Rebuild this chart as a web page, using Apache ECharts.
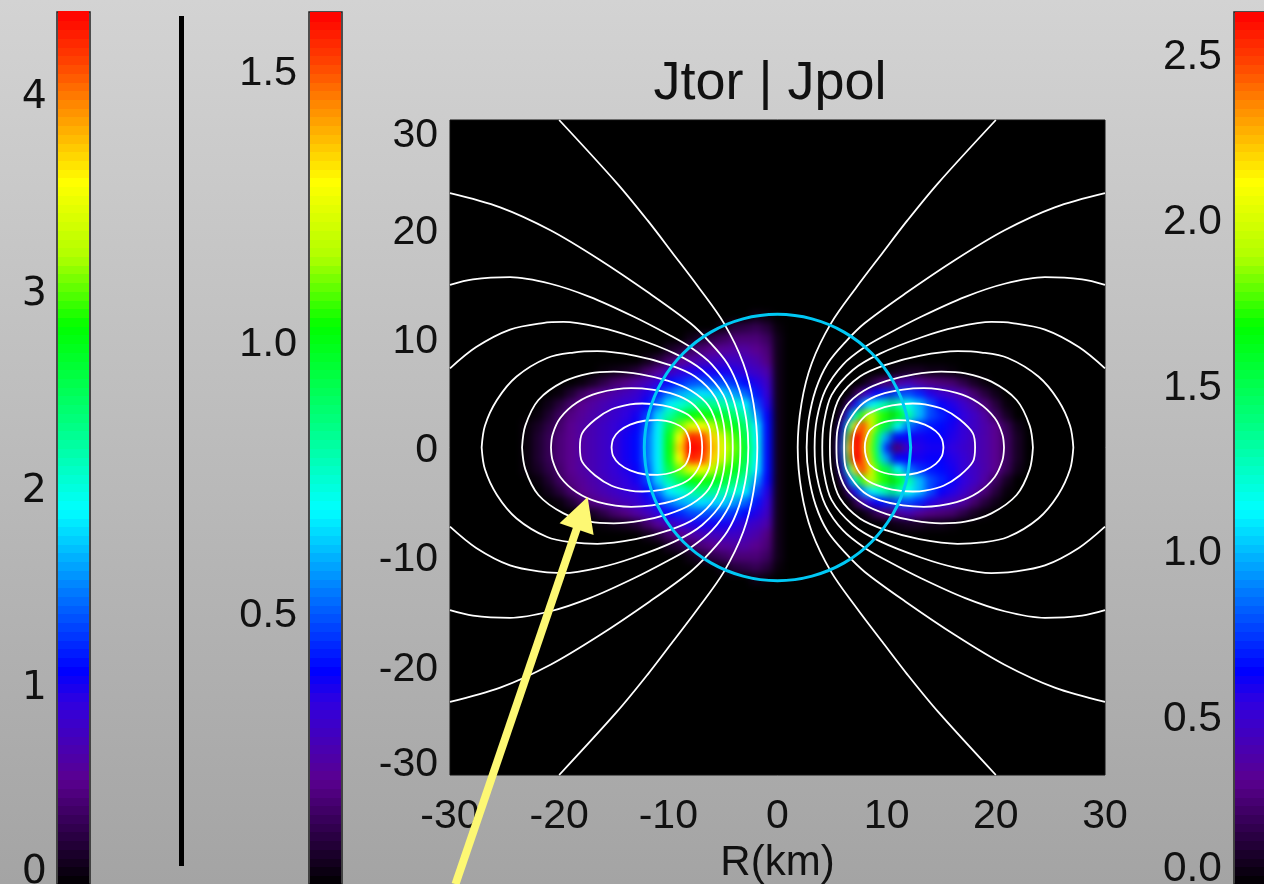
<!DOCTYPE html>
<html>
<head>
<meta charset="utf-8">
<title>Jtor | Jpol</title>
<style>
  html, body { margin: 0; padding: 0; overflow: hidden; }
  #chart { width: 1264px; height: 884px; }
</style>
<script src="https://cdn.jsdelivr.net/npm/echarts@6/dist/echarts.min.js"></script>
</head>
<body>
<div id="chart"></div>
<script>
// colour bar ranges
const leftBarMax = 4.426;
const midBarMax = 1.609;
const rightBarMax = 2.634;

// the 100 bands of the colour bars
const barLevels = [0,1,2,3,4,5,6,7,8,9,10,11,12,13,14,15,16,17,18,19,20,21,22,23,24,25,26,27,28,29,30,31,32,33,34,35,36,37,38,39,40,41,42,43,44,45,46,47,48,49,50,51,52,53,54,55,56,57,58,59,60,61,62,63,64,65,66,67,68,69,70,71,72,73,74,75,76,77,78,79,80,81,82,83,84,85,86,87,88,89,90,91,92,93,94,95,96,97,98,99];

// rainbow: position on the bar (0-100) and colour
const rampPos = [0, 12, 21, 24.5, 34, 43, 53, 64, 72, 80.5, 90, 94.5, 100];
const rampCol = ['#000000', '#5a0090', '#3000e0', '#0000ff', '#0080ff', '#00ffff', '#00ff80', '#00ff00', '#b0ff00', '#ffff00', '#ff8000', '#ff4000', '#ff0000'];

// left lobe (Jtor), position on the bar. columns are r = 0,1,2.. km, rows z = 0,1,2.. km
const jtorRows = [
  [2,25,45,60,69,77,86,98,100,84,63,42,33,25,23,20,18,16,14,12,10,7,4,1],
  [2,25,44,58,67,74,84,95,97,80,62,42,33,25,23,20,18,16,14,12,10,7,4,1],
  [2,25,42,55,62,67,73,80,78,69,58,42,31,24,22,20,18,16,14,12,9,6,3,1],
  [2,24,36,49,55,60,62,65,63,57,50,40,29,23,21,19,17,15,13,11,8,4,1],
  [2,22,30,42,47,50,52,53,50,46,42,33,25,21,20,18,16,14,12,9,5,2],
  [2,20,26,32,36,40,40,41,39,37,33,27,22,19,17,15,13,11,8,4,1],
  [2,18,22,25,28,30,30,31,30,27,25,21,17,14,11,9,6,3,1],
  [2,15,18,20,22,23,23,23,22,20,17,13,9,5,3,2,1],
  [2,11,15,17,18,18,17,16,14,12,9,5,2],
  [2,10,12,14,14,13,12,10,8,5,3],
  [2,8,10,10,10,8,6,4,2],
  [1,5,7,6,5,2],
  [0,1,2]
];

// right lobe (Jpol), same idea, finer columns through the sharp inner edge
const jpolR = [5.5,6,6.5,7,7.5,8,8.5,9,9.5,10,11,12,13,14,15,16,17,18,19,20,21,22];
const jpolW = [0.5,0.5,0.5,0.5,0.5,0.5,0.5,0.5,0.5,0.75,1,1,1,1,1,1,1,1,1,1,1,1];
const jpolRows = [
  [8,32,78,100,100,84,70,58,42,27,10,20,22,23,23,21,19,17,15,12,8,3],
  [6,29,70,100,100,88,73,60,48,36,25,24,23,24,24,22,20,17,15,12,8,3],
  [3,22,50,78,94,93,80,69,62,57,44,33,28,26,25,23,20,18,15,12,7,2],
  [0,10,27,45,60,70,76,70,66,65,62,50,38,30,27,24,21,18,14,8,3,0],
  [0,1,10,22,30,37,42,45,47,50,50,44,38,30,24,22,19,15,10,5,1,0],
  [0,0,0,5,10,17,21,24,25,27,30,30,27,22,19,17,14,9,5,2,0,0],
  [0,0,0,0,0,2,4,7,9,10,14,16,13,11,10,9,6,3,1,0,0,0],
  [0,0,0,0,0,0,0,0,0,1,2,3,3,2,2,1,0,0,0,0,0,0]
];

// field lines, upper quadrant as [r, z] in km, outer end first
const fieldLines = [
  [[15.2,0],[15.05,0.8],[14.5,1.5],[13.5,2.1],[12.2,2.45],[11,2.5],[9.4,2.2],[8.5,1.64],[8.1,0.8],[8,0]],
  [[18.1,0],[17.9,1.3],[16.7,2.56],[15.2,3.5],[13.5,3.95],[12.4,4.03],[10.5,3.85],[9.1,3.45],[8,2.85],[7.15,1.65],[6.9,0]],
  [[20.75,0],[20.6,1.2],[19.9,2.7],[18.4,4.1],[16.4,5],[13.4,5.43],[11.5,5.3],[9.4,4.85],[7.9,4.1],[6.8,2.87],[6.2,1.65],[6.1,0]],
  [[23.4,0],[23.1,2],[21.9,4.35],[19.6,6.03],[17.2,6.8],[15,6.95],[12.5,6.7],[10,6.1],[7.9,5.2],[6.3,3.8],[5.5,1.65],[5.4,0]],
  [[27.1,0],[26.8,2],[25.7,4.35],[23.9,6.5],[21.1,8.2],[18.7,8.7],[16.5,8.82],[13,8.4],[10,7.6],[7.55,6.5],[5.7,4.6],[4.95,2.26],[4.8,0]],
  [[30,7.25],[27.6,9.2],[24.5,10.8],[21.5,11.4],[19.6,11.5],[16.3,11],[13.2,10.1],[9.4,8.6],[6.9,7.1],[4.95,4.8],[4.25,2.26],[4.1,0]],
  [[30,14.9],[27.9,15.4],[24.5,15.6],[20.8,15],[17.2,13.8],[13.2,12],[10,10.35],[8,9.2],[6,7.6],[4.4,5.3],[3.6,2.6],[3.4,0]],
  [[30,23.3],[25.4,22],[20.8,19.9],[16.3,17.2],[11.7,14.1],[8,11.4],[6.3,9.75],[4.6,7.7],[3.5,5.3],[2.85,2.5],[2.67,0]],
  [[20,30],[14.7,24.2],[11.9,20.8],[9.6,17.8],[7.25,14.7],[4.9,11.37],[3.13,7.7],[2.2,4.05],[1.85,0]]
];

// star surface, one quadrant
const surface = [[12.2,0],[11.78,3.16],[10.57,6.1],[8.63,8.63],[6.1,10.57],[3.16,11.78],[0,12.2]];

// yellow arrow: tail (below the plot), centre of the head
const arrowPts = [[-29.5,-40],[-17.9,-6]];

const myChart = echarts.init(document.getElementById('chart'));

function rampColor(level) {
  for (let i = 1; i < rampPos.length; i++) {
    if (level <= rampPos[i]) {
      const t = (level - rampPos[i - 1]) / (rampPos[i] - rampPos[i - 1]);
      return echarts.color.lerp(t, [rampCol[i - 1], rampCol[i]]);
    }
  }
  return rampCol[rampCol.length - 1];
}

function barSeries(gridIndex, max) {
  return {
    type: 'custom',
    xAxisIndex: gridIndex,
    yAxisIndex: gridIndex,
    silent: true,
    clip: false,
    z: 1,
    data: barLevels.map(l => [0, l * max / 100, l]),
    renderItem: (params, api) => {
      const p0 = api.coord([0.03, api.value(1) + max / 100]);
      const p1 = api.coord([0.97, api.value(1)]);
      return {
        type: 'rect',
        shape: {x: p0[0], y: Math.floor(p0[1]), width: p1[0] - p0[0], height: Math.ceil(p1[1] - p0[1]) + 1},
        style: {fill: rampColor(api.value(2) + 0.5)}
      };
    }
  };
}

// tick labels sit slightly off their tick in the original, the padding nudges them
function shiftedLabel(fontFamily, fontSize, margin, down, first, last, fmt) {
  const base = {color: '#111', fontFamily, fontSize};
  return {
    ...base,
    margin,
    showMaxLabel: last !== null,
    rich: {
      mid: {...base, padding: [down, 0, 0, 0]},
      first: {...base, padding: [0, 0, first, 0]},
      last: {...base, padding: [last || 0, 0, 0, 0]}
    },
    formatter: (v, i) => {
      const text = fmt(v);
      if (text === '') return '';
      return '{' + (i === 0 ? 'first' : (last !== null && v >= 30 ? 'last' : 'mid')) + '|' + text + '}';
    }
  };
}

function barYAxis(gridIndex, max, interval, label) {
  return {
    type: 'value', gridIndex, min: 0, max, interval,
    axisLine: {show: false}, axisTick: {show: false}, splitLine: {show: false},
    axisLabel: label
  };
}

// lobes, mirrored over the equator
const heatData = [];
jtorRows.forEach((row, z) => row.forEach((v, i) => {
  heatData.push([-i, z, v, 1]);
  if (z > 0) heatData.push([-i, -z, v, 1]);
}));
jpolRows.forEach((row, z) => row.forEach((v, i) => {
  heatData.push([jpolR[i], z, v, jpolW[i]]);
  if (z > 0) heatData.push([jpolR[i], -z, v, jpolW[i]]);
}));

const mainGrid = 3;
const overlay = {
  type: 'line', xAxisIndex: mainGrid, yAxisIndex: mainGrid,
  zlevel: 2, silent: true, symbol: 'none', animation: false
};

const series = [
  barSeries(0, leftBarMax),
  barSeries(1, midBarMax),
  barSeries(2, rightBarMax),
  {
    type: 'custom',
    name: 'Jtor | Jpol',
    xAxisIndex: mainGrid,
    yAxisIndex: mainGrid,
    zlevel: 1,
    silent: true,
    data: heatData,
    renderItem: (params, api) => {
      const w = api.value(3) / 2;
      const p0 = api.coord([api.value(0) - w, api.value(1) + 0.5]);
      const p1 = api.coord([api.value(0) + w, api.value(1) - 0.5]);
      return {
        type: 'rect',
        shape: {x: p0[0], y: p0[1], width: p1[0] - p0[0] + 0.5, height: p1[1] - p0[1] + 0.5},
        style: {fill: rampColor(api.value(2))}
      };
    }
  }
];

fieldLines.forEach(line => {
  [-1, 1].forEach(side => {
    const upper = line.map(p => [side * p[0], p[1]]);
    const lower = line.map(p => [side * p[0], -p[1]]).reverse().slice(1);
    series.push({...overlay, smooth: 0.33, data: upper.concat(lower), lineStyle: {color: '#fff', width: 1.8}});
  });
});

const q1 = surface.map(p => [p[0], p[1]]);
const q2 = surface.map(p => [-p[0], p[1]]).reverse().slice(1);
const q3 = surface.map(p => [-p[0], -p[1]]).slice(1);
const q4 = surface.map(p => [p[0], -p[1]]).reverse().slice(1);
series.push({...overlay, smooth: 0.33, data: q1.concat(q2, q3, q4), lineStyle: {color: '#00c8f5', width: 3}});

series.push({
  ...overlay,
  clip: false,
  showAllSymbol: true,
  lineStyle: {color: '#fdf873', width: 8, cap: 'butt'},
  itemStyle: {color: '#fdf873'},
  data: [arrowPts[0], {value: arrowPts[1], symbol: 'triangle', symbolSize: [36, 34], symbolRotate: -18.9}]
});

const barGrid = {top: 12, width: 33, height: 872, show: true, borderColor: '#222', borderWidth: 1.5, backgroundColor: 'transparent', outerBoundsMode: 'none'};

const option = {
  animation: false,
  backgroundColor: new echarts.graphic.LinearGradient(0, 0, 0, 1, [
    {offset: 0, color: '#d3d3d3'},
    {offset: 1, color: '#a4a4a4'}
  ]),
  title: {
    text: 'Jtor | Jpol',
    left: 765,
    top: 52,
    textAlign: 'center',
    textStyle: {color: '#111', fontFamily: 'Liberation Sans', fontSize: 54, fontWeight: 'normal'}
  },
  grid: [
    {...barGrid, left: 57},
    {...barGrid, left: 309},
    {...barGrid, left: 1234},
    {left: 450, top: 120, width: 655, height: 655, show: true, borderColor: '#111', borderWidth: 1, backgroundColor: '#000', outerBoundsMode: 'none'}
  ],
  xAxis: [
    {type: 'value', gridIndex: 0, min: 0, max: 1, show: false},
    {type: 'value', gridIndex: 1, min: 0, max: 1, show: false},
    {type: 'value', gridIndex: 2, min: 0, max: 1, show: false},
    {
      type: 'value', gridIndex: 3, min: -30, max: 30, interval: 10,
      name: 'R(km)', nameLocation: 'middle', nameGap: 67,
      nameTextStyle: {color: '#111', fontFamily: 'Liberation Sans', fontSize: 42},
      axisLine: {show: false}, axisTick: {show: false}, splitLine: {show: false},
      axisLabel: {color: '#111', fontFamily: 'Liberation Sans', fontSize: 41, margin: 21}
    }
  ],
  yAxis: [
    barYAxis(0, leftBarMax, 1, shiftedLabel('DejaVu Sans', 39.5, 10, 4, 23, null, v => String(v))),
    barYAxis(1, midBarMax, 0.5, shiftedLabel('Liberation Sans', 41.5, 12, 5, 0, null, v => (v === 0 ? '' : v.toFixed(1)))),
    barYAxis(2, rightBarMax, 0.5, shiftedLabel('Liberation Sans', 42.5, 12, 1, 30, null, v => v.toFixed(1))),
    {
      type: 'value', gridIndex: 3, min: -30, max: 30, interval: 10,
      axisLine: {show: false}, axisTick: {show: false}, splitLine: {show: false},
      axisLabel: shiftedLabel('Liberation Sans', 41, 12, 7, 20, 31, v => String(v))
    }
  ],
  graphic: [{
    type: 'line',
    silent: true,
    shape: {x1: 181.5, y1: 16, x2: 181.5, y2: 866},
    style: {stroke: '#000', lineWidth: 5}
  }],
  series
};

myChart.setOption(option);

// lobes sit on their own canvas, soften the cell edges there
function softenLobes() {
  const layer = myChart.getDom().querySelector('canvas[data-zr-dom-id="zr_1"]');
  if (layer) layer.style.filter = 'blur(3.5px)';
}
myChart.on('finished', softenLobes);
softenLobes();
</script>
</body>
</html>
